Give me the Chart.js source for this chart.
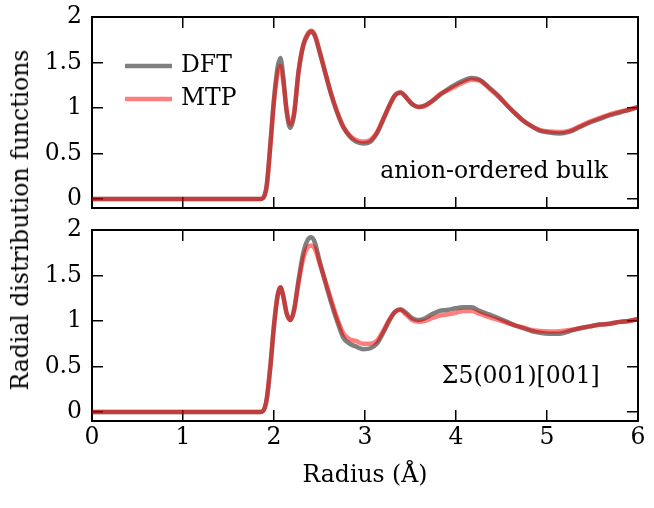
<!DOCTYPE html>
<html>
<head>
<meta charset="utf-8">
<script src="https://cdn.jsdelivr.net/npm/chart.js@4.4.0/dist/chart.umd.min.js"></script>
<style>
  html, body { margin: 0; padding: 0; background: #fff; }
  #wrap { position: relative; width: 654px; height: 508px; }
  canvas { position: absolute; left: 0; }
  #topChart { top: 0; }
  #bottomChart { top: 215px; }
  #ylabel {
    position: absolute; left: 20px; top: 220px;
    transform: translate(-50%, -50%) rotate(-90deg);
    white-space: nowrap; font: 23.5px "DejaVu Serif", serif; color: #000;
  }
</style>
</head>
<body>
<div id="wrap">
  <canvas id="topChart" width="654" height="215"></canvas>
  <canvas id="bottomChart" width="654" height="293"></canvas>
  <div id="ylabel">Radial distribution functions</div>
</div>
<script>
var radius = [0, 1.0, 1.85, 1.88, 1.92, 1.96,
    2.0, 2.04, 2.07, 2.10, 2.14, 2.18, 2.22, 2.27, 2.32, 2.37,
    2.41, 2.45, 2.50, 2.56, 2.62, 2.69, 2.76, 2.83, 2.90, 2.98,
    3.06, 3.13, 3.20, 3.27, 3.33, 3.39, 3.45, 3.52, 3.59, 3.66,
    3.73, 3.82, 3.90, 4.00, 4.08, 4.17, 4.26, 4.37, 4.47, 4.56,
    4.65, 4.74, 4.83, 4.92, 5.03, 5.14, 5.25, 5.36, 5.47, 5.58,
    5.69, 5.80, 5.90, 6.0];

var bulkDft = [0, 0, 0, 0.01, 0.15, 0.6,
    1.1, 1.45, 1.55, 1.36, 0.95, 0.78, 0.92, 1.40, 1.68, 1.80,
    1.84, 1.79, 1.62, 1.40, 1.18, 0.96, 0.79, 0.69, 0.63, 0.61,
    0.63, 0.72, 0.87, 1.03, 1.14, 1.17, 1.12, 1.04, 1.01, 1.03,
    1.07, 1.14, 1.20, 1.26, 1.30, 1.33, 1.31, 1.22, 1.13, 1.03,
    0.94, 0.86, 0.80, 0.75, 0.73, 0.72, 0.74, 0.79, 0.84, 0.88,
    0.92, 0.95, 0.98, 1.01];
var bulkMtp = [0, 0, 0, 0.01, 0.14, 0.58,
    1.07, 1.38, 1.46, 1.30, 0.97, 0.82, 0.94, 1.40, 1.69, 1.82,
    1.85, 1.80, 1.63, 1.40, 1.18, 0.97, 0.80, 0.70, 0.65, 0.63,
    0.65, 0.73, 0.88, 1.03, 1.14, 1.17, 1.12, 1.04, 1.01, 1.02,
    1.07, 1.15, 1.19, 1.24, 1.28, 1.31, 1.30, 1.21, 1.12, 1.03,
    0.94, 0.86, 0.80, 0.76, 0.74, 0.735, 0.75, 0.80, 0.85, 0.89,
    0.93, 0.96, 0.98, 1.01];

var gbDft = [0, 0, 0, 0.01, 0.14, 0.5,
    0.95, 1.28, 1.37, 1.28, 1.08, 1.01, 1.12, 1.45, 1.74, 1.89,
    1.92, 1.86, 1.66, 1.44, 1.23, 1.01, 0.82, 0.75, 0.72, 0.69,
    0.70, 0.75, 0.87, 1.01, 1.10, 1.13, 1.09, 1.03, 1.01, 1.03,
    1.07, 1.11, 1.12, 1.14, 1.15, 1.15, 1.11, 1.07, 1.03, 0.99,
    0.95, 0.92, 0.89, 0.87, 0.86, 0.86, 0.89, 0.92, 0.94, 0.96,
    0.97, 0.99, 1.0, 1.02];
var gbMtp = [0, 0, 0, 0.01, 0.14, 0.5,
    0.95, 1.28, 1.37, 1.28, 1.08, 1.01, 1.11, 1.42, 1.68, 1.81,
    1.83, 1.79, 1.64, 1.45, 1.26, 1.04, 0.87, 0.80, 0.78, 0.75,
    0.75, 0.78, 0.89, 1.02, 1.10, 1.12, 1.07, 1.01, 0.99, 1.00,
    1.03, 1.06, 1.07, 1.09, 1.11, 1.11, 1.08, 1.04, 1.01, 0.98,
    0.95, 0.93, 0.90, 0.89, 0.885, 0.887, 0.90, 0.92, 0.94, 0.96,
    0.97, 0.99, 1.0, 1.02];

var seriesNames = ['DFT', 'MTP'];
var seriesColors = ['rgba(0, 0, 0, 0.5)', 'rgba(255, 0, 0, 0.5)'];
var yTicks = [0, 0.5, 1, 1.5, 2];
var xTicks = [0, 1, 2, 3, 4, 5, 6];

var FONT_FAMILY = '"DejaVu Serif", serif';
var FONT_SIZE = 23.5;
Chart.defaults.font.family = FONT_FAMILY;
Chart.defaults.font.size = FONT_SIZE;
Chart.defaults.color = '#000';

function points(ys) {
    return radius.map(function(r, i) { return {x: r, y: ys[i]}; });
}

function lineSet(name, ys, idx) {
    return {
        label: name,
        data: points(ys),
        borderColor: seriesColors[idx],
        borderWidth: 4.5,
        pointRadius: 0,
        cubicInterpolationMode: 'monotone',
        fill: false,
        order: idx === 0 ? 1 : 0   // MTP drawn over DFT
    };
}

function tickGrid() {
    return { drawOnChartArea: false, drawTicks: true, tickLength: -11, color: '#000', lineWidth: 1.5 };
}
var axisBorder = { display: true, color: '#000', width: 2 };

// fixed axis sizes, and no extra room for labels sticking out
function fixSize(w, h) {
    return function(s) {
        if (w !== null) s.width = w;
        if (h !== null) s.height = h;
        s.paddingTop = s.paddingBottom = s.paddingLeft = s.paddingRight = 0;
    };
}

function setTicks(vals) {
    return function(s) { s.ticks = vals.map(function(v) { return {value: v}; }); };
}

// four axes: x/y with labels, x2/y2 mirrored ticks only
function buildScales(showXLabels) {
    return {
        x: {
            type: 'linear', position: 'bottom', min: 0, max: 6,
            grid: tickGrid(), border: axisBorder,
            afterBuildTicks: setTicks(xTicks),
            ticks: { display: showXLabels, padding: 14, maxRotation: 0, callback: function(v) { return String(v); } },
            afterFit: fixSize(null, showXLabels ? 40 : 0)
        },
        x2: {
            type: 'linear', position: 'top', min: 0, max: 6,
            grid: tickGrid(), border: axisBorder,
            afterBuildTicks: setTicks(xTicks),
            ticks: { display: false },
            afterFit: fixSize(null, 0)
        },
        y: {
            type: 'linear', position: 'left', min: -0.1, max: 2,
            grid: tickGrid(), border: axisBorder,
            afterBuildTicks: setTicks(yTicks),
            ticks: { padding: 21, callback: function(v) { return String(v); } },
            afterFit: fixSize(92, null)
        },
        y2: {
            type: 'linear', position: 'right', min: -0.1, max: 2,
            grid: tickGrid(), border: axisBorder,
            afterBuildTicks: setTicks(yTicks),
            ticks: { display: false },
            afterFit: fixSize(0, null)
        }
    };
}

// texts inside the panels: legend, panel label, x title
var panelText = {
    id: 'panelText',
    afterDraw: function(chart, args, opts) {
        var ctx = chart.ctx;
        var area = chart.chartArea;
        ctx.save();
        ctx.font = FONT_SIZE + 'px ' + FONT_FAMILY;
        ctx.fillStyle = '#000';
        ctx.textBaseline = 'middle';
        if (opts.legend) {
            chart.data.datasets.forEach(function(ds, i) {
                var y = area.top + 49 + i * 33;
                ctx.strokeStyle = ds.borderColor;
                ctx.lineWidth = ds.borderWidth;
                ctx.beginPath();
                ctx.moveTo(area.left + 33, y);
                ctx.lineTo(area.left + 80, y);
                ctx.stroke();
                ctx.textAlign = 'left';
                ctx.fillText(ds.label, area.left + 89, y);
            });
        }
        if (opts.label) {
            ctx.textAlign = 'right';
            ctx.fillText(opts.label.text,
                chart.scales.x.getPixelForValue(opts.label.x),
                chart.scales.y.getPixelForValue(opts.label.y));
        }
        if (opts.xTitle) {
            ctx.textAlign = 'center';
            ctx.fillText(opts.xTitle, (area.left + area.right) / 2, area.bottom + 55);
        }
        ctx.restore();
    }
};

new Chart(document.getElementById('topChart').getContext('2d'), {
    type: 'line',
    data: { datasets: [lineSet(seriesNames[0], bulkDft, 0), lineSet(seriesNames[1], bulkMtp, 1)] },
    options: {
        responsive: false,
        animation: false,
        layout: { padding: { left: 0, top: 17, right: 16, bottom: 7 } },
        scales: buildScales(false),
        plugins: {
            legend: { display: false },
            tooltip: { enabled: false },
            panelText: { legend: true, label: { text: 'anion-ordered bulk', x: 5.67, y: 0.3 } }
        }
    },
    plugins: [panelText]
});

new Chart(document.getElementById('bottomChart').getContext('2d'), {
    type: 'line',
    data: { datasets: [lineSet(seriesNames[0], gbDft, 0), lineSet(seriesNames[1], gbMtp, 1)] },
    options: {
        responsive: false,
        animation: false,
        layout: { padding: { left: 0, top: 15, right: 16, bottom: 47 } },
        scales: buildScales(true),
        plugins: {
            legend: { display: false },
            tooltip: { enabled: false },
            panelText: { label: { text: '\u03A35(001)[001]', x: 5.58, y: 0.38 }, xTitle: 'Radius (\u00C5)' }
        }
    },
    plugins: [panelText]
});
</script>
</body>
</html>
